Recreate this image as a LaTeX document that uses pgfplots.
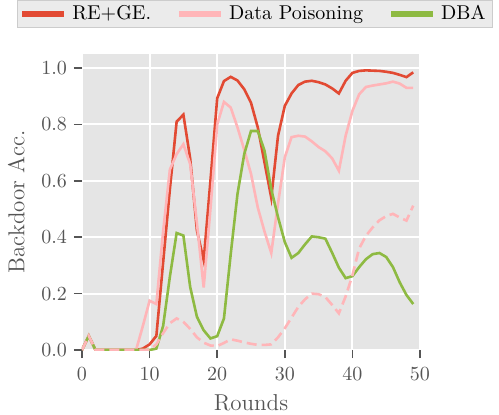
\documentclass[border=0pt]{standalone}
\usepackage{pgfplots}
\pgfplotsset{compat=1.18}
\definecolor{ggred}{HTML}{E24A33}
\definecolor{ggpink}{HTML}{FFB5B8}
\definecolor{gggreen}{HTML}{8EBA42}
\definecolor{ggbg}{HTML}{E5E5E5}
\definecolor{ggtext}{HTML}{555555}
\definecolor{legbg}{HTML}{EBEBEB}
\definecolor{legdraw}{HTML}{CCCCCC}
\begin{document}
\begin{tikzpicture}
\begin{axis}[
  width=169pt, height=148pt, scale only axis,
  xmin=0, xmax=50, ymin=0, ymax=1.05,
  xtick={0,10,20,30,40,50}, ytick={0,0.2,0.4,0.6,0.8,1.0},
  axis background/.style={fill=ggbg},
  grid=major, grid style={white, line width=1pt},
  axis line style={draw=none},
  xtick pos=bottom, ytick pos=left, tick align=outside,
  major tick length=4pt,
  tick style={ggtext, line width=0.8pt},
  ticklabel style={font=\fontsize{9.8}{11}\selectfont, text=ggtext},
  xticklabel style={yshift=-1.5pt},
  yticklabel style={/pgf/number format/.cd, fixed, fixed zerofill, precision=1},
  xlabel={Rounds}, ylabel={Backdoor Acc.},
  label style={font=\fontsize{11.5}{13}\selectfont, text=ggtext},
  ylabel style={yshift=1.5pt},
  legend columns=3,
  legend style={at={(-0.1923,1.1824)}, anchor=north west, draw=legdraw, fill=legbg,
    font=\fontsize{10}{12}\selectfont, inner xsep=1pt, inner ysep=1pt,
    nodes={inner xsep=2.5pt, inner ysep=1.5pt},
    /tikz/every even column/.append style={column sep=10pt}},
  legend image code/.code={\draw[line width=3pt] (0pt,0pt) -- (21pt,0pt);},
  every axis plot/.append style={line width=1.3pt},
]
\addplot[ggred] coordinates {(0,0) (1,0.05) (2,0) (3,0) (4,0) (5,0) (6,0) (7,0) (8,0) (9,0.005) (10,0.02) (11,0.05) (12,0.31) (13,0.57) (14,0.81) (15,0.835) (16,0.68) (17,0.424) (18,0.318) (19,0.6) (20,0.893) (21,0.954) (22,0.969) (23,0.956) (24,0.925) (25,0.877) (26,0.79) (27,0.665) (28,0.54) (29,0.76) (30,0.866) (31,0.91) (32,0.94) (33,0.952) (34,0.955) (35,0.95) (36,0.942) (37,0.928) (38,0.91) (39,0.955) (40,0.983) (41,0.99) (42,0.992) (43,0.991) (44,0.99) (45,0.987) (46,0.983) (47,0.976) (48,0.968) (49,0.985)};
\addlegendentry{RE+GE.}
\addplot[ggpink] coordinates {(0,0) (1,0.05) (2,0) (3,0) (4,0) (5,0) (6,0) (7,0) (8,0) (9,0.085) (10,0.175) (11,0.163) (12,0.42) (13,0.64) (14,0.695) (15,0.73) (16,0.66) (17,0.45) (18,0.222) (19,0.5) (20,0.8) (21,0.88) (22,0.86) (23,0.79) (24,0.71) (25,0.625) (26,0.506) (27,0.42) (28,0.344) (29,0.52) (30,0.683) (31,0.755) (32,0.76) (33,0.757) (34,0.74) (35,0.72) (36,0.705) (37,0.68) (38,0.636) (39,0.76) (40,0.848) (41,0.907) (42,0.933) (43,0.938) (44,0.942) (45,0.946) (46,0.952) (47,0.945) (48,0.93) (49,0.93)};
\addlegendentry{Data Poisoning}
\addplot[gggreen] coordinates {(0,0) (1,0.05) (2,0) (3,0) (4,0) (5,0) (6,0) (7,0) (8,0) (9,0) (10,0) (11,0.005) (12,0.085) (13,0.26) (14,0.415) (15,0.406) (16,0.224) (17,0.118) (18,0.07) (19,0.041) (20,0.049) (21,0.112) (22,0.34) (23,0.553) (24,0.695) (25,0.777) (26,0.777) (27,0.707) (28,0.57) (29,0.471) (30,0.383) (31,0.327) (32,0.344) (33,0.375) (34,0.403) (35,0.4) (36,0.395) (37,0.345) (38,0.292) (39,0.255) (40,0.262) (41,0.294) (42,0.322) (43,0.34) (44,0.344) (45,0.33) (46,0.294) (47,0.24) (48,0.195) (49,0.163)};
\addlegendentry{DBA}
\addplot[ggpink, dash pattern=on 5pt off 2.5pt, forget plot] coordinates {(0,0) (1,0.05) (2,0) (3,0) (4,0) (5,0) (6,0) (7,0) (8,0) (9,0) (10,0) (11,0.02) (12,0.06) (13,0.095) (14,0.112) (15,0.1) (16,0.075) (17,0.045) (18,0.026) (19,0.016) (20,0.014) (21,0.025) (22,0.038) (23,0.033) (24,0.027) (25,0.022) (26,0.018) (27,0.018) (28,0.02) (29,0.045) (30,0.077) (31,0.115) (32,0.153) (33,0.18) (34,0.2) (35,0.198) (36,0.188) (37,0.16) (38,0.13) (39,0.19) (40,0.265) (41,0.36) (42,0.405) (43,0.435) (44,0.46) (45,0.475) (46,0.483) (47,0.47) (48,0.459) (49,0.512)};
\end{axis}
\pgfresetboundingbox
\path[use as bounding box] (current axis.south west) ++(-41pt,-32pt) rectangle ++(249.5pt,207pt);
\end{tikzpicture}
\end{document}
